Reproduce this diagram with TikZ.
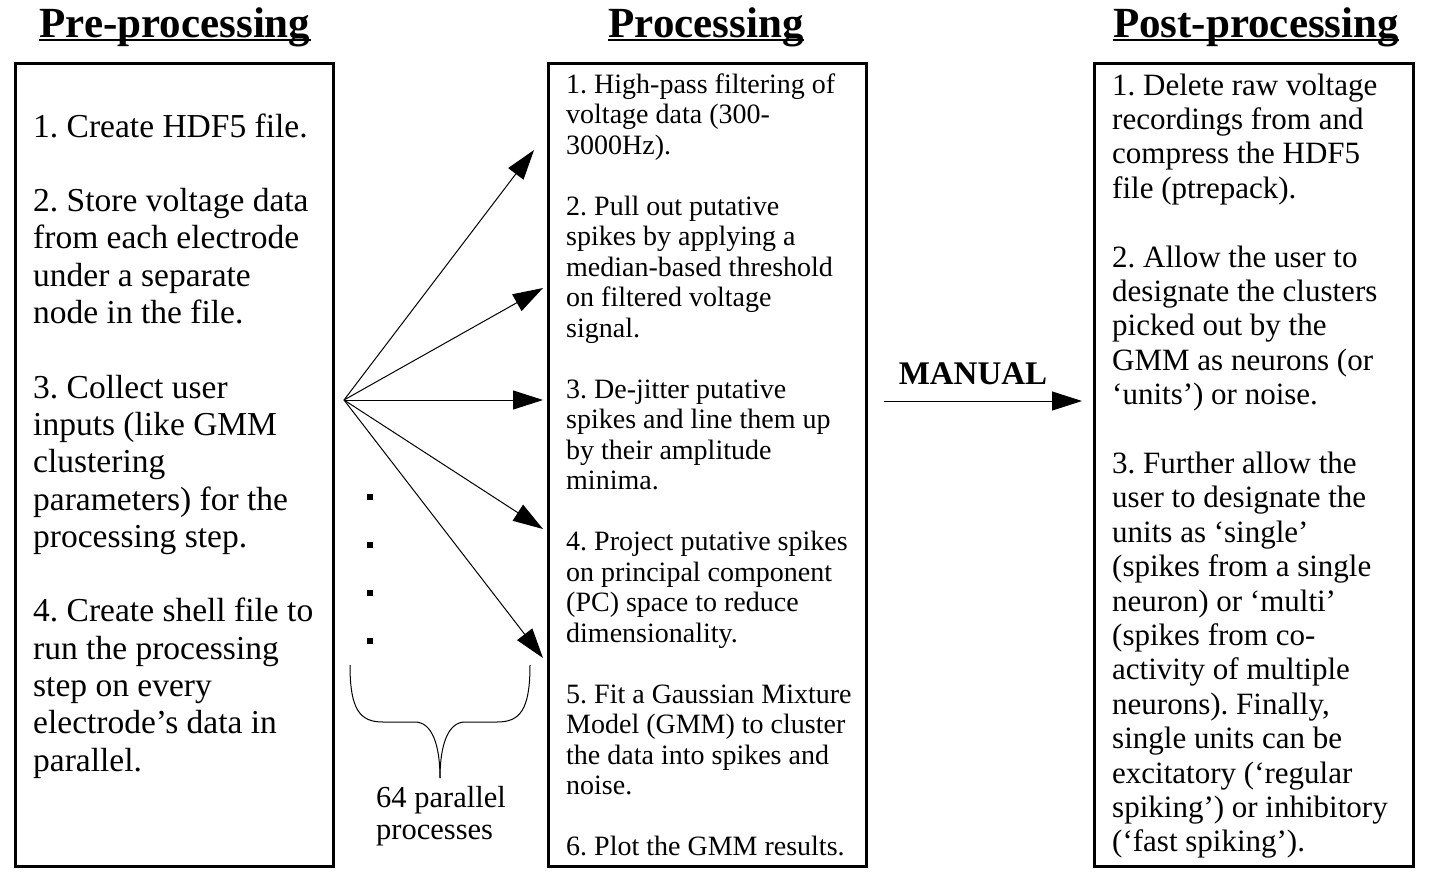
\documentclass[tikz,border=0pt]{standalone}
\usepackage{fontspec}
\setmainfont{Liberation Serif}
\usetikzlibrary{arrows.meta}
\frenchspacing
\newcommand{\txtblk}[3]{\parbox[t]{400pt}{\frenchspacing\fontsize{#1}{#2}\selectfont\raggedright #3}}
\begin{document}
\begin{tikzpicture}[x=1pt,y=-1pt,
  box/.style={draw, line width=3pt, inner sep=0pt, outer sep=0pt, anchor=north west},
  ttl/.style={font=\fontsize{43}{50}\selectfont\bfseries, inner sep=0pt, anchor=base},
  txt/.style={inner sep=0pt, anchor=base west},
  arr/.style={line width=1pt, -{Triangle[length=30pt,width=19pt]}},
  uline/.style={line width=2.5pt},
  dotsq/.style={fill, inner sep=0pt, minimum size=6pt},
  lbl/.style={inner sep=0pt, anchor=base}
]
\useasboundingbox (0,0) rectangle (1432,879);

% boxes
\node[box, minimum width=318pt, minimum height=803pt] (L) at (15.5,63.5) {};
\node[box, minimum width=318pt, minimum height=803pt] (M) at (548.5,63.5) {};
\node[box, minimum width=319pt, minimum height=803pt] (R) at (1094.5,63.5) {};

% titles
\node[ttl] (t1) at (175,37) {Pre-processing};
\node[ttl] (t2) at (706,37) {Processing};
\node[ttl] (t3) at (1256,37) {Post-processing};
\foreach \t in {t1,t2,t3}
  \draw[uline] ([yshift=-3pt]\t.base west) -- ([yshift=-3pt]\t.base east);

% left text
\node[txt] (lt) at (33,137) {\txtblk{33.5}{37.3}{%
1. Create HDF5 file.\\[37.3pt]
2. Store voltage data\\
from each electrode\\
under a separate\\
node in the file.\\[37.3pt]
3. Collect user\\
inputs (like GMM\\
clustering\\
parameters) for the\\
processing step.\\[37.3pt]
4. Create shell file to\\
run the processing\\
step on every\\
electrode’s data in\\
parallel.}};

% middle text
\node[txt] (mt) at (566,93) {\txtblk{28}{30.5}{%
1. High-pass filtering of\\
voltage data (300-\\
3000Hz).\\[30.5pt]
2. Pull out putative\\
spikes by applying a\\
median-based threshold\\
on filtered voltage\\
signal.\\[30.5pt]
3. De-jitter putative\\
spikes and line them up\\
by their amplitude\\
minima.\\[30.5pt]
4. Project putative spikes\\
on principal component\\
(PC) space to reduce\\
dimensionality.\\[30.5pt]
5. Fit a Gaussian Mixture\\
Model (GMM) to cluster\\
the data into spikes and\\
noise.\\[30.5pt]
6. Plot the GMM results.}};

% right text
\node[txt] (rt) at (1112,95) {\txtblk{31}{34.4}{%
1. Delete raw voltage\\
recordings from and\\
compress the HDF5\\
file (ptrepack).\\[34.4pt]
2. Allow the user to\\
designate the clusters\\
picked out by the\\
GMM as neurons (or\\
‘units’) or noise.\\[34.4pt]
3. Further allow the\\
user to designate the\\
units as ‘single’\\
(spikes from a single\\
neuron) or ‘multi’\\
(spikes from co-\\
activity of multiple\\
neurons). Finally,\\
single units can be\\
excitatory (‘regular\\
spiking’) or inhibitory\\
(‘fast spiking’).}};

% fan of arrows
\coordinate (o) at (344,400);
\coordinate (p1) at (534,150);
\coordinate (p2) at (543,288);
\coordinate (p3) at (543,400);
\coordinate (p4) at (543,529);
\coordinate (p5) at (543,658);
\foreach \p in {p1,p2,p3,p4,p5}
  \draw[arr] (o) -- (\p);

% dots
\node[dotsq] (d1) at (370,497) {};
\node[dotsq] (d2) at (370,545) {};
\node[dotsq] (d3) at (370,593) {};
\node[dotsq] (d4) at (370,641) {};

% brace
\draw[line width=1pt] (350,665) .. controls (350,710) and (360,722) .. (383,722) -- (415,722)
  .. controls (432,722) and (440,745) .. (440,778);
\draw[line width=1pt] (530,665) .. controls (530,710) and (520,722) .. (497,722) -- (465,722)
  .. controls (448,722) and (440,745) .. (440,778);
\node[txt] (pp) at (376,807) {\txtblk{30.5}{32}{64 parallel\\processes}};

% manual arrow
\node[lbl, font=\fontsize{33}{38}\selectfont\bfseries] (man) at (973,384) {MANUAL};
\coordinate (ma) at (884,401);
\coordinate (mb) at (1082,401);
\draw[arr] (ma) -- (mb);
\end{tikzpicture}
\end{document}
